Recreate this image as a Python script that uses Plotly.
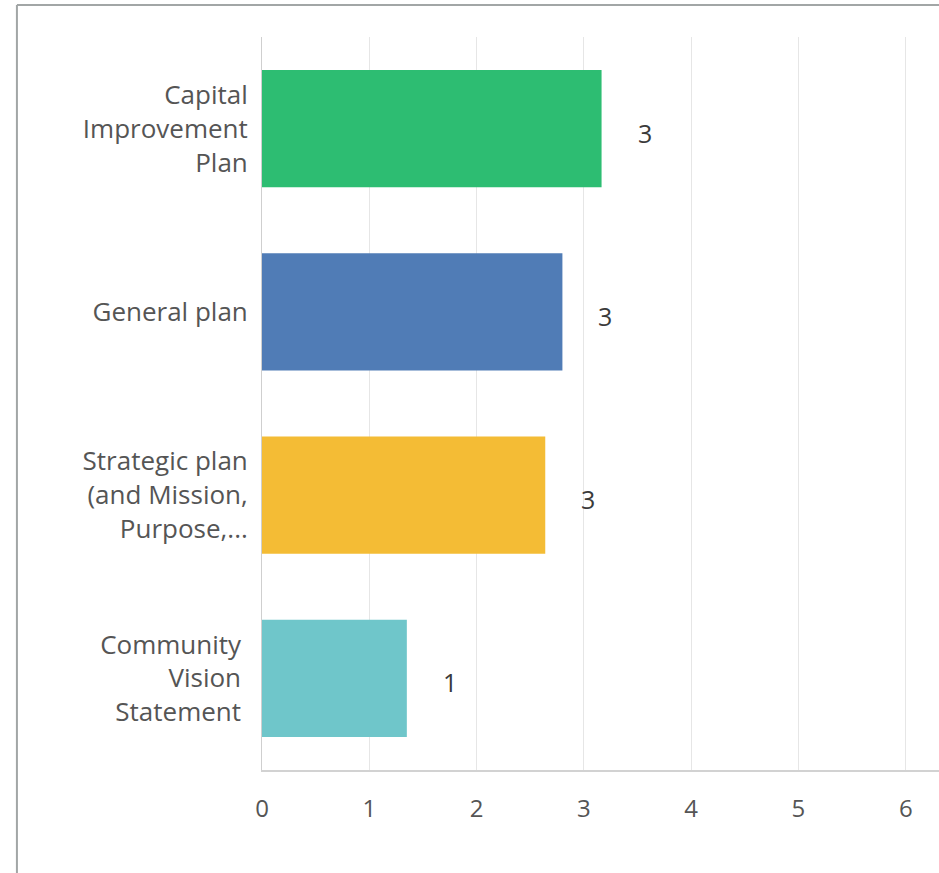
import plotly.graph_objects as go

NB = "\u00a0"
categories = ["Community" + NB + "<br>Vision" + NB + "<br>Statement" + NB,
              "Strategic plan<br>(and Mission,<br>Purpose,...",
              "General plan",
              "Capital<br>Improvement<br>Plan"]
bar_lengths = [1.35, 2.64, 2.80, 3.165]
value_labels = ["1", "3", "3", "3"]
colors = ["#6fc6ca", "#f4bc35", "#507cb6", "#2dbd72"]
x_ticks = [0, 1, 2, 3, 4, 5, 6]

fig = go.Figure()
fig.add_trace(go.Bar(
    y=list(range(len(categories))), x=bar_lengths, orientation="h",
    marker=dict(color=colors, line=dict(width=0)),
    hoverinfo="skip",
))

for i, (v, t) in enumerate(zip(bar_lengths, value_labels)):
    fig.add_annotation(x=v, y=i, text=t, showarrow=False, xanchor="left",
                       xshift=34, yshift=-4,
                       font=dict(family="Open Sans", size=25, color="#3a3a3a"))

# outer frame lines (top and left)
fig.add_shape(type="line", xref="paper", yref="paper", x0=-0.362, x1=1.05,
              y0=1.0437, y1=1.0437, line=dict(color="#a2a6a6", width=2))
fig.add_shape(type="line", xref="paper", yref="paper", x0=-0.362, x1=-0.362,
              y0=1.0437, y1=-0.2, line=dict(color="#a2a6a6", width=2))

fig.update_layout(
    width=939, height=873,
    margin=dict(l=262, r=0, t=37, b=103),
    paper_bgcolor="white", plot_bgcolor="white",
    bargap=0.36, showlegend=False,
    font=dict(family="Open Sans", size=23, color="#555555"),
    xaxis=dict(range=[0, 6.31], tickvals=x_ticks, ticktext=[str(t) for t in x_ticks],
               showgrid=True, gridcolor="#e6e6e6", gridwidth=1,
               zeroline=False, showline=True, linecolor="#d2d2d2", linewidth=2,
               ticks="", ticklabelstandoff=16,
               tickfont=dict(family="Open Sans", size=24, color="#555555")),
    yaxis=dict(range=[-0.5, 3.5], tickvals=list(range(len(categories))), ticktext=categories,
               showgrid=False, zeroline=False, showline=True, linecolor="#cfcfcf", linewidth=1,
               ticks="", ticklabelstandoff=8,
               tickfont=dict(family="Open Sans", size=26, color="#555555")),
)

fig.write_html("out.html")
